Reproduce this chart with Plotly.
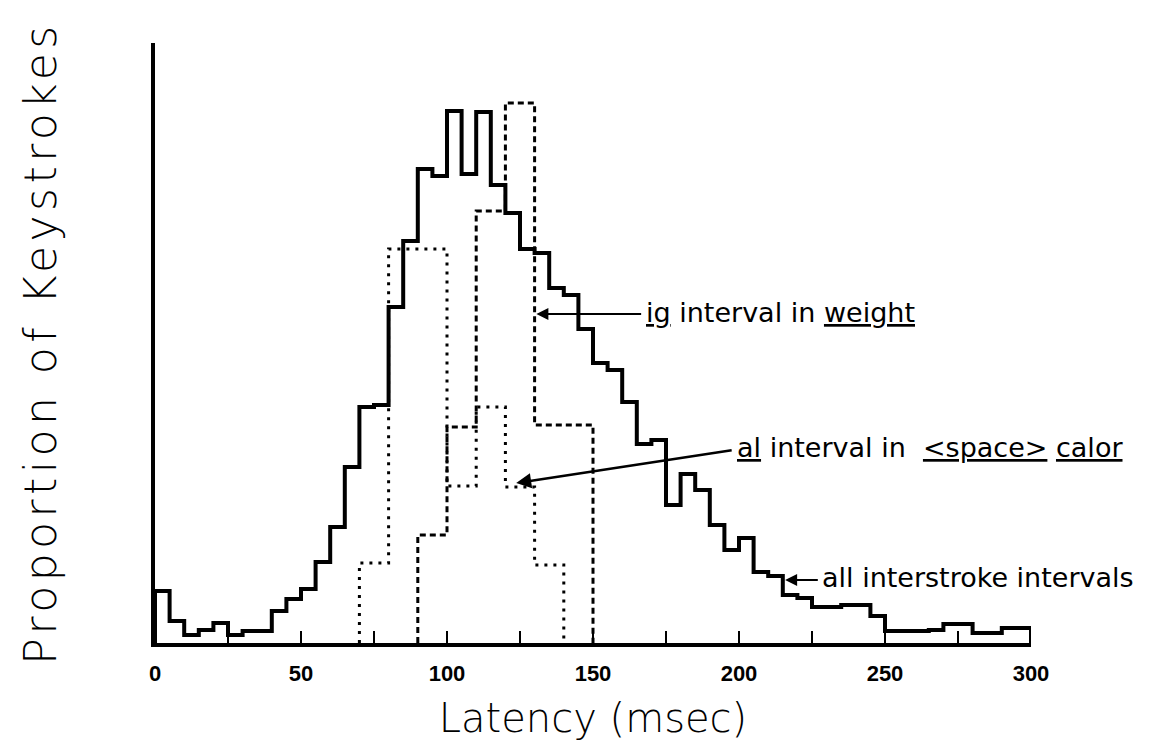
import plotly.graph_objects as go

# all interstroke intervals, 5 ms bins from 0 to 300
all_bin_starts = list(range(0, 300, 5))
all_values = [52, 22, 8, 13, 20, 8, 12, 12, 32, 44,
              54, 81, 116, 176, 236, 238, 336, 402, 474, 467,
              532, 469, 531, 458, 430, 394, 390, 355, 348, 314,
              280, 273, 241, 199, 203, 138, 169, 153, 118, 93,
              105, 71, 67, 48, 45, 36, 36, 38, 38, 27,
              12, 12, 12, 13, 19, 19, 10, 10, 15, 15]

# "al" interval in <space> calor, 10 ms bins
al_bin_starts = [70, 80, 90, 100, 110, 120, 130]
al_values = [80, 394, 394, 157, 236, 156, 78]

# "ig" interval in weight, 10 ms bins
ig_bin_starts = [90, 100, 110, 120, 130, 140]
ig_values = [108, 216, 432, 540, 218, 218]

x_ticks = [0, 25, 50, 75, 100, 125, 150, 175, 200, 225, 250, 275, 300]
x_tick_labels = ["0", "", "50", "", "100", "", "150", "", "200", "", "250", "", "300"]


def step_outline(starts, values, width):
    # 把直方圖畫成階梯外框
    xs = [starts[0]] + list(starts) + [starts[-1] + width]
    ys = [0] + list(values) + [0]
    return xs, ys


font_main = "DejaVu Sans, Verdana, sans-serif"

fig = go.Figure()

x, y = step_outline(all_bin_starts, all_values, 5)
fig.add_trace(go.Scatter(x=x, y=y, mode="lines", line=dict(color="black", width=4, shape="hv"),
                         name="all interstroke intervals", showlegend=False))

x, y = step_outline(ig_bin_starts, ig_values, 10)
fig.add_trace(go.Scatter(x=x, y=y, mode="lines", line=dict(color="black", width=3, shape="hv", dash="6px,4px"),
                         name="ig interval in weight", showlegend=False))

x, y = step_outline(al_bin_starts, al_values, 10)
fig.add_trace(go.Scatter(x=x, y=y, mode="lines", line=dict(color="black", width=3, shape="hv", dash="3px,6px"),
                         name="al interval in <space> calor", showlegend=False))

# --- 標註箭頭 ---
arrows = [
    dict(x=130.6, y=329, ax=167, ay=329, width=2),
    dict(x=123.7, y=160, ax=198, ay=193, width=2.5),
    dict(x=215.8, y=63, ax=227.5, ay=63, width=2),
]
for a in arrows:
    fig.add_annotation(x=a["x"], y=a["y"], ax=a["ax"], ay=a["ay"], xref="x", yref="y",
                       axref="x", ayref="y", text="", showarrow=True, arrowhead=2,
                       arrowsize=1.2, arrowwidth=a["width"], arrowcolor="black")

labels = [
    dict(x=167.5, y=331, text="<u>ig</u> interval in <u>weight</u>"),
    dict(x=198.5, y=196, text="<u>al</u> interval in  <u>&lt;space&gt;</u> <u>calor</u>"),
    dict(x=227.8, y=66, text="all interstroke intervals"),
]
for lb in labels:
    fig.add_annotation(x=lb["x"], y=lb["y"], xref="x", yref="y", text=lb["text"],
                       showarrow=False, xanchor="left", yanchor="middle",
                       font=dict(family=font_main, size=27, color="black"))

fig.update_xaxes(
    range=[0, 300], showline=True, linecolor="black", linewidth=4, mirror=False,
    showgrid=False, zeroline=False,
    tickmode="array", tickvals=x_ticks, ticktext=x_tick_labels,
    ticks="inside", ticklen=12, tickwidth=2, tickcolor="black",
    ticklabelstandoff=8,
    tickfont=dict(family="Liberation Sans, Arial", size=22, color="black", weight="bold"),
    title=dict(text="Latency (msec)", standoff=20,
               font=dict(family=font_main, size=40, color="black", weight=300)),
)
fig.update_yaxes(
    range=[0, 600], showline=True, linecolor="black", linewidth=4,
    showgrid=False, zeroline=False, showticklabels=False, ticks="",
    title=dict(text="Proportion of Keystrokes", standoff=82,
               font=dict(family=font_main, size=44, color="black", weight=300)),
)

fig.update_layout(
    width=1150, height=745,
    plot_bgcolor="white", paper_bgcolor="white",
    margin=dict(l=147, r=127, t=35, b=110),
    showlegend=False,
)

# 縱軸標題字距拉開
css = "var s=document.createElement('style');s.textContent='.ytitle{letter-spacing:4.5px}';document.head.appendChild(s);"
fig.write_html("out.html", post_script=css)
